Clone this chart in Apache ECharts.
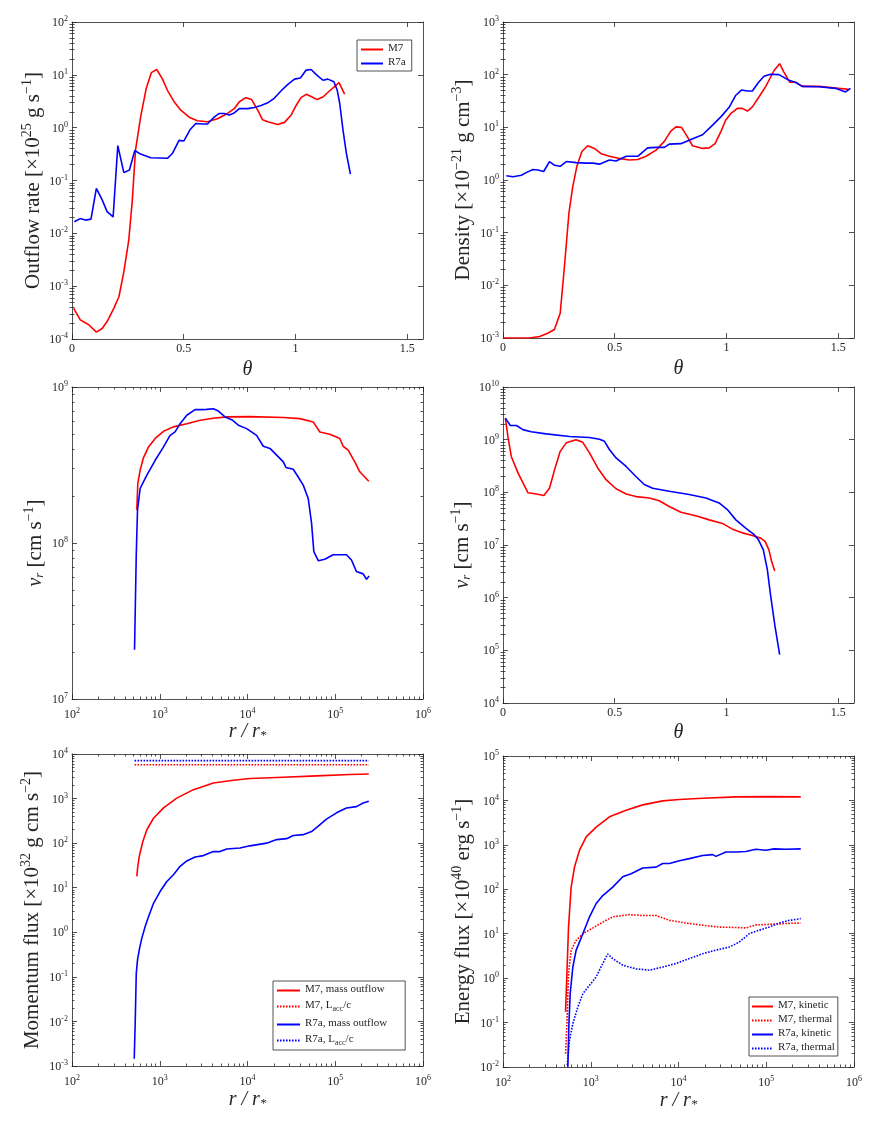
<!DOCTYPE html>
<html><head><meta charset="utf-8">
<script src="https://cdn.jsdelivr.net/npm/echarts@6/dist/echarts.min.js"></script>
<style>html,body{margin:0;padding:0;background:#fff}#c{width:872px;height:1137px}</style>
</head><body><div id="c"></div>
<script>
// ---------- DATA ----------
// Panel 1: outflow rate vs theta
const thM7Out = [0.0075,0.037,0.075,0.109,0.135,0.157,0.187,0.21,0.232,0.254,0.27,0.284,0.307,0.332,0.355,0.379,0.404,0.427,0.457,0.487,0.524,0.561,0.606,0.651,0.696,0.726,0.749,0.778,0.804,0.831,0.853,0.876,0.921,0.951,0.981,1.003,1.025,1.048,1.07,1.097,1.123,1.153,1.175,1.195,1.22];
const outM7 = [3.8e-4,2.3e-4,1.86e-4,1.35e-4,1.58e-4,2.14e-4,3.8e-4,6.3e-4,1.86e-3,7.4e-3,4.3e-2,0.37,1.58,5.5,11,12.6,8.5,5.1,3.1,2.14,1.58,1.35,1.29,1.48,1.86,2.29,3.1,3.7,3.4,2.14,1.41,1.29,1.15,1.26,1.74,2.63,3.7,4.27,3.9,3.4,3.8,5.0,6.0,7.1,4.3];
const thR7Out = [0.0105,0.037,0.06,0.085,0.109,0.135,0.157,0.184,0.205,0.232,0.257,0.281,0.307,0.352,0.427,0.449,0.479,0.501,0.528,0.554,0.584,0.606,0.636,0.659,0.681,0.704,0.726,0.749,0.786,0.816,0.846,0.876,0.906,0.936,0.966,0.996,1.022,1.048,1.07,1.097,1.123,1.145,1.172,1.187,1.198,1.213,1.228,1.246];
const outR7 = [1.66e-2,1.9e-2,1.78e-2,1.86e-2,7.1e-2,4.3e-2,2.57e-2,2.04e-2,0.457,0.141,0.158,0.37,0.316,0.27,0.263,0.324,0.575,0.56,0.91,1.2,1.17,1.17,1.58,1.86,1.86,1.74,1.9,2.29,2.29,2.4,2.63,2.95,3.63,5.0,6.6,8.3,8.7,12.3,12.6,9.8,7.9,8.3,7.4,5.1,2.9,0.89,0.324,0.132];

// Panel 2: density vs theta
const thM7Den = [0,0.119,0.164,0.2,0.23,0.256,0.275,0.295,0.312,0.33,0.353,0.379,0.409,0.439,0.476,0.521,0.565,0.603,0.64,0.685,0.722,0.751,0.774,0.799,0.826,0.848,0.893,0.923,0.949,0.975,0.997,1.019,1.049,1.071,1.094,1.116,1.146,1.176,1.213,1.238,1.257,1.283,1.31,1.339,1.414,1.488,1.548];
const denM7 = [1e-3,1e-3,1.07e-3,1.23e-3,1.45e-3,2.95e-3,2.3e-2,0.234,0.74,1.78,3.47,4.47,3.98,3.16,2.82,2.57,2.4,2.45,2.82,3.7,5.4,8.5,10.2,10,6.5,4.47,3.98,4.07,4.9,8.3,13.8,18.2,22.9,22.9,20.4,24.5,38,60,120,162,112,72,72,60,60,56,52.5];
const thR7Den = [0.015,0.045,0.082,0.104,0.134,0.156,0.182,0.208,0.231,0.256,0.283,0.327,0.372,0.402,0.432,0.476,0.506,0.551,0.603,0.647,0.685,0.722,0.744,0.796,0.841,0.893,0.938,0.975,1.012,1.042,1.067,1.094,1.116,1.143,1.168,1.198,1.235,1.28,1.31,1.339,1.414,1.488,1.533,1.555];
const denR7 = [1.2,1.15,1.23,1.38,1.58,1.55,1.45,2.24,1.9,1.82,2.24,2.14,2.09,2.09,2.0,2.4,2.29,2.82,2.82,4.07,4.17,4.17,4.79,4.9,5.9,7.24,11,15.8,24,40.7,51,49,49,71,93,102,100,78,71,60,59,55,47,55];

// Panel 3: v_r vs r/r*
const rM7Vr = [548,562,598,653,745,887,1104,1432,2032,2884,4083,5794,10715,25700,39540,56100,61200,66800,86700,112700,123000,140300,167100,190500,216800,241000];
const vrM7r = [1.63e8,2.4e8,2.93e8,3.53e8,4.13e8,4.68e8,5.2e8,5.55e8,5.82e8,6.12e8,6.31e8,6.43e8,6.46e8,6.37e8,6.27e8,5.97e8,5.55e8,5.15e8,4.98e8,4.68e8,4.17e8,3.94e8,3.31e8,2.86e8,2.65e8,2.49e8];
const rR7Vr = [516,540,558,598,713,887,1104,1312,1496,1706,2032,2529,2884,3428,4083,4656,5546,6607,7870,9772,12700,15140,18030,21480,25590,27420,33190,37840,43150,49200,53700,57000,64000,76000,94600,134300,153100,174600,208000,227000,243200];
const vrR7r = [2.07e7,8.5e7,1.63e8,2.24e8,2.72e8,3.39e8,4.13e8,4.9e8,5.15e8,5.82e8,6.59e8,7.16e8,7.16e8,7.19e8,7.26e8,7.01e8,6.43e8,6.17e8,5.69e8,5.41e8,4.9e8,4.17e8,4.04e8,3.66e8,3.31e8,3.05e8,2.97e8,2.65e8,2.35e8,1.93e8,1.34e8,8.8e7,7.7e7,7.87e7,8.4e7,8.4e7,7.78e7,6.56e7,6.34e7,5.86e7,6.15e7];

// Panel 4: v_r vs theta
const thM7Vr = [0.0104,0.022,0.037,0.067,0.112,0.149,0.183,0.208,0.231,0.256,0.283,0.327,0.357,0.387,0.424,0.461,0.506,0.551,0.595,0.655,0.699,0.744,0.796,0.863,0.923,0.982,1.027,1.071,1.116,1.153,1.173,1.19,1.202,1.216];
const vrM7t = [2.57e9,1.15e9,4.8e8,2.34e8,9.8e7,9.3e7,8.7e7,1.2e8,2.7e8,6.0e8,8.7e8,1.0e9,8.9e8,5.6e8,2.9e8,1.74e8,1.17e8,9.3e7,8.3e7,7.8e7,6.9e7,5.4e7,4.2e7,3.6e7,3.0e7,2.57e7,2.0e7,1.7e7,1.51e7,1.35e7,1.17e7,8.1e6,4.9e6,3.2e6];
const thR7Vr = [0.0104,0.033,0.06,0.089,0.126,0.193,0.298,0.387,0.432,0.454,0.476,0.506,0.551,0.595,0.632,0.67,0.744,0.833,0.908,0.967,1.004,1.042,1.086,1.124,1.143,1.165,1.183,1.198,1.217,1.238];
const vrR7t = [2.57e9,1.86e9,1.86e9,1.55e9,1.41e9,1.29e9,1.15e9,1.1e9,1.02e9,9.3e8,6.5e8,4.5e8,3.1e8,2.0e8,1.41e8,1.2e8,1.05e8,9.1e7,7.8e7,6.3e7,4.7e7,3.0e7,2.1e7,1.58e7,1.26e7,8.1e6,3.4e6,1.07e6,2.9e5,8.3e4];

// Panel 5: momentum flux vs r/r*
const rM7Mom = [548,562,589,643,713,849,1104,1563,2421,4083,6902,10670,25590,61240,146600,241000];
const momM7 = [17.9,30,55,110,200,363,617,1023,1585,2239,2570,2818,3020,3236,3467,3548];
const rLacc = [516,241000];
const laccM7 = [5760,5760];
const laccR7 = [7100,7100];
const rR7Mom = [512,525,540,558,589,625,682,745,849,1012,1205,1432,1706,2032,2529,3148,4083,4864,5794,8222,10670,16520,21480,27930,33190,43150,53700,64000,79430,103300,134300,174600,208000,241000];
const momR7 = [1.45e-3,9.1e-3,0.12,0.24,0.44,0.74,1.35,2.24,4.47,8.3,13.8,19.5,30.2,39.8,49,52.5,64.6,64.6,74,77.6,87,100,120,126,148,155,182,240,347,479,617,661,794,871];

// Panel 6: energy flux vs r/r*
const rM7Kin = [516,535,558,598,653,745,887,1153,1633,2529,3908,6607,10230,18840,45080,107900,247200];
const kinM7 = [0.174,1.26,14.1,112,316,759,1514,2512,4266,6026,7943,9772,10470,11220,12020,12160,12020];
const rM7Th = [516,535,558,598,682,813,1057,1371,1782,2761,3908,5546,7870,12160,18840,29110,45080,58610,76210,107900,167100,247200];
const thmM7 = [0.02,0.095,1.26,4.27,7.1,10,13.5,18.2,24,26.9,25.7,25.7,20,17.4,15.5,14.1,13.8,13.5,15.8,16.2,17,17.4];
const rR7Kin = [548,564,583,625,682,813,968,1153,1371,1782,2317,2884,3908,5546,6607,7870,10230,13270,18840,24490,26730,34670,45080,58610,76210,98860,123000,167100,247200];
const kinR7 = [0.01,0.095,0.45,1.78,4.27,10,24,47.9,72.4,112,191,224,302,316,380,380,437,490,575,603,550,692,692,708,794,759,813,794,813];
const rR7Th = [540,573,625,713,813,968,1153,1371,1563,1782,2317,3289,4656,6607,9376,13270,18840,26730,37840,49200,64000,83180,107900,140300,182400,217300,247200];
const thmR7 = [0.011,0.04,0.095,0.224,0.447,0.69,1.07,2.14,3.5,2.75,1.95,1.62,1.51,1.78,2.14,2.75,3.55,4.27,5.0,6.46,10,12,14.1,17.4,20,20.9,21.9];

// Tick values
const thetaTicks = [0, 0.5, 1, 1.5];
const rTicks = [1e2, 1e3, 1e4, 1e5, 1e6];
const outTicks = [1e-4,1e-3,1e-2,1e-1,1e0,1e1,1e2];
const denTicks = [1e-3,1e-2,1e-1,1e0,1e1,1e2,1e3];
const vrRTicks = [1e7,1e8,1e9];
const vrTTicks = [1e4,1e5,1e6,1e7,1e8,1e9,1e10];
const momTicks = [1e-3,1e-2,1e-1,1e0,1e1,1e2,1e3,1e4];
const eneTicks = [1e-2,1e-1,1e0,1e1,1e2,1e3,1e4,1e5];

// ---------- STYLE ----------
const FONT = '"Liberation Serif", "DejaVu Serif", serif';
const INK = '#262626';
const RED = '#ff0000', BLUE = '#0000ff';
const tickRich = {
  b: {fontFamily: FONT, fontSize: 12, color: INK, lineHeight: 14, verticalAlign: 'bottom'},
  s: {fontFamily: FONT, fontSize: 8, color: INK, lineHeight: 9, verticalAlign: 'top'}
};
const nameRich = {
  n: {fontFamily: FONT, fontSize: 21, color: INK, lineHeight: 24, verticalAlign: 'bottom'},
  i: {fontFamily: FONT, fontSize: 20, fontStyle: 'italic', color: INK, lineHeight: 24, verticalAlign: 'bottom'},
  s: {fontFamily: FONT, fontSize: 14, color: INK, lineHeight: 14, verticalAlign: 'top'},
  d: {fontFamily: FONT, fontSize: 13, fontStyle: 'italic', color: INK, lineHeight: 13, verticalAlign: 'bottom'}
};
const legRich = {
  t: {fontFamily: FONT, fontSize: 11, color: INK, lineHeight: 13, verticalAlign: 'top'},
  u: {fontFamily: FONT, fontSize: 8, color: INK, lineHeight: 9, verticalAlign: 'bottom'}
};

const GRIDS = [
  {left: 72, top: 22, width: 351, height: 317},
  {left: 503, top: 22, width: 351, height: 316},
  {left: 72, top: 387, width: 351, height: 312},
  {left: 503, top: 387, width: 351, height: 316},
  {left: 72, top: 754, width: 351, height: 312},
  {left: 503, top: 756, width: 351, height: 311}
];

function logFmt(v) { const e = Math.round(Math.log10(v)); return '{b|10}{s|' + e + '}'; }
function linFmt(v) { return String(v); }
function minorsOf(min, max) {
  const out = [];
  const e0 = Math.round(Math.log10(min)), e1 = Math.round(Math.log10(max));
  for (let e = e0; e < e1; e++) for (let m = 2; m <= 9; m++) out.push(+(m * Math.pow(10, e)).toPrecision(6));
  return out;
}

const xAxes = [], yAxes = [];
function addAxes(list, grid, isX, cfg) {
  const main = list.length;
  const sides = isX ? ['bottom', 'top'] : ['left', 'right'];
  const lineStyle = {color: INK, width: 0.8};
  sides.forEach(function (pos, k) {
    const a = {
      gridIndex: grid, type: cfg.type, position: pos, min: cfg.min, max: cfg.max,
      axisLine: {show: true, onZero: false, lineStyle: lineStyle},
      axisTick: {show: true, inside: true, length: 5, customValues: cfg.ticks, lineStyle: lineStyle},
      axisLabel: cfg.type === 'log'
        ? {show: k === 0, customValues: cfg.ticks, formatter: logFmt, rich: tickRich, margin: isX ? 8 : 4, color: INK}
        : {show: k === 0, customValues: cfg.ticks, formatter: linFmt, fontFamily: FONT, fontSize: 12, color: INK, margin: 4},
      splitLine: {show: false}, axisPointer: {show: false}, silent: true
    };
    if (cfg.type === 'log') a.logBase = 10;
    if (k === 0) {
      a.name = cfg.name; a.nameLocation = 'middle'; a.nameGap = cfg.gap;
      a.nameRotate = isX ? 0 : 90;
      a.nameTextStyle = {rich: nameRich, fontFamily: FONT, fontSize: 20, color: INK};
    }
    list.push(a);
  });
  if (cfg.type === 'log') {
    const minors = minorsOf(cfg.min, cfg.max);
    sides.forEach(function (pos) {
      list.push({
        gridIndex: grid, type: 'log', logBase: 10, position: pos, min: cfg.min, max: cfg.max,
        axisLine: {show: false}, axisLabel: {show: false}, splitLine: {show: false},
        axisTick: {show: true, inside: true, length: 2.5, customValues: minors, lineStyle: lineStyle},
        axisPointer: {show: false}, silent: true
      });
    });
  }
  return main;
}

const TH = '{i|θ}';
const RR = '{i|r / r}{d|*}';
const ax = [];
ax.push([addAxes(xAxes, 0, true, {type: 'value', min: 0, max: Math.PI / 2, ticks: thetaTicks, name: TH, gap: 17}),
         addAxes(yAxes, 0, false, {type: 'log', min: 1e-4, max: 1e2, ticks: outTicks, name: '{n|Outflow rate [×10}{s|25}{n| g s}{s|−1}{n|]}', gap: 28})]);
ax.push([addAxes(xAxes, 1, true, {type: 'value', min: 0, max: Math.PI / 2, ticks: thetaTicks, name: TH, gap: 17}),
         addAxes(yAxes, 1, false, {type: 'log', min: 1e-3, max: 1e3, ticks: denTicks, name: '{n|Density [×10}{s|−21}{n| g cm}{s|−3}{n|]}', gap: 29})]);
ax.push([addAxes(xAxes, 2, true, {type: 'log', min: 1e2, max: 1e6, ticks: rTicks, name: RR, gap: 19}),
         addAxes(yAxes, 2, false, {type: 'log', min: 1e7, max: 1e9, ticks: vrRTicks, name: '{i|v}{d|r}{n| [cm s}{s|−1}{n|]}', gap: 26})]);
ax.push([addAxes(xAxes, 3, true, {type: 'value', min: 0, max: Math.PI / 2, ticks: thetaTicks, name: TH, gap: 16}),
         addAxes(yAxes, 3, false, {type: 'log', min: 1e4, max: 1e10, ticks: vrTTicks, name: '{i|v}{d|r}{n| [cm s}{s|−1}{n|]}', gap: 30})]);
ax.push([addAxes(xAxes, 4, true, {type: 'log', min: 1e2, max: 1e6, ticks: rTicks, name: RR, gap: 20}),
         addAxes(yAxes, 4, false, {type: 'log', min: 1e-3, max: 1e4, ticks: momTicks, name: '{n|Momentum flux [×10}{s|32}{n| g cm s}{s|−2}{n|]}', gap: 29})]);
ax.push([addAxes(xAxes, 5, true, {type: 'log', min: 1e2, max: 1e6, ticks: rTicks, name: RR, gap: 20}),
         addAxes(yAxes, 5, false, {type: 'log', min: 1e-2, max: 1e5, ticks: eneTicks, name: '{n|Energy flux [×10}{s|40}{n| erg s}{s|−1}{n|]}', gap: 29})]);

function zip(xs, ys) { return xs.map(function (x, i) { return [x, ys[i]]; }); }
function line(name, panel, xs, ys, color, dotted) {
  return {
    type: 'line', name: name, xAxisIndex: ax[panel][0], yAxisIndex: ax[panel][1],
    data: zip(xs, ys), symbol: 'none', showSymbol: false, silent: true, animation: false,
    lineStyle: {color: color, width: 1.6, type: dotted ? [1.6, 1.4] : 'solid'},
    itemStyle: {color: color}, z: 3
  };
}

const series = [
  line('M7', 0, thM7Out, outM7, RED),
  line('R7a', 0, thR7Out, outR7, BLUE),
  line('M7 density', 1, thM7Den, denM7, RED),
  line('R7a density', 1, thR7Den, denR7, BLUE),
  line('M7 vr(r)', 2, rM7Vr, vrM7r, RED),
  line('R7a vr(r)', 2, rR7Vr, vrR7r, BLUE),
  line('M7 vr(theta)', 3, thM7Vr, vrM7t, RED),
  line('R7a vr(theta)', 3, thR7Vr, vrR7t, BLUE),
  line('M7, mass outflow', 4, rM7Mom, momM7, RED),
  line('M7, Lacc/c', 4, rLacc, laccM7, RED, true),
  line('R7a, mass outflow', 4, rR7Mom, momR7, BLUE),
  line('R7a, Lacc/c', 4, rLacc, laccR7, BLUE, true),
  line('M7, kinetic', 5, rM7Kin, kinM7, RED),
  line('M7, thermal', 5, rM7Th, thmM7, RED, true),
  line('R7a, kinetic', 5, rR7Kin, kinR7, BLUE),
  line('R7a, thermal', 5, rR7Th, thmR7, BLUE, true)
];

const LEG_LABEL = {
  'M7, Lacc/c': '{t|M7, L}{u|acc}{t|/c}',
  'R7a, Lacc/c': '{t|R7a, L}{u|acc}{t|/c}'
};
function legend(o) {
  return Object.assign({
    orient: 'vertical', selectedMode: false, backgroundColor: '#fff',
    borderColor: INK, borderWidth: 0.8, borderRadius: 0,
    itemHeight: 10,
    itemStyle: {opacity: 0, color: 'rgba(0,0,0,0)', borderWidth: 0},
    formatter: function (n) { return LEG_LABEL[n] || ('{t|' + n + '}'); },
    textStyle: {rich: legRich, fontFamily: FONT, fontSize: 11, color: INK}
  }, o);
}

const option = {
  animation: false,
  backgroundColor: '#fff',
  grid: GRIDS.map(function (g) { return Object.assign({containLabel: false}, g); }),
  xAxis: xAxes,
  yAxis: yAxes,
  legend: [
    legend({left: 357, top: 40, data: ['M7', 'R7a'], itemWidth: 22, itemGap: 3, padding: [3, 6, 3, 3]}),
    legend({left: 273, top: 981, data: ['M7, mass outflow', 'M7, Lacc/c', 'R7a, mass outflow', 'R7a, Lacc/c'], itemWidth: 23, itemGap: 5, padding: [3, 18, 3, 3]}),
    legend({left: 749, top: 997, data: ['M7, kinetic', 'M7, thermal', 'R7a, kinetic', 'R7a, thermal'], itemWidth: 21, itemGap: 3, padding: [3, 3, 3, 2]})
  ],
  series: series
};

const chart = echarts.init(document.getElementById('c'), null, {renderer: 'canvas'});
chart.setOption(option);
</script>
</body></html>
